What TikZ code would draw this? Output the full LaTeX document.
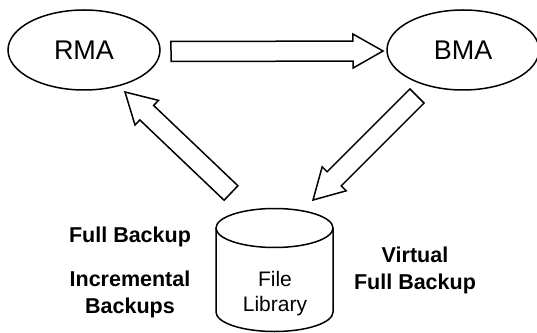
\documentclass[tikz,border=0pt]{standalone}
\usepackage{fontspec}
\setmainfont{Liberation Sans}
\usetikzlibrary{shapes.geometric, positioning, calc}

\newcommand{\fatarrow}[2]{%
  \draw[fat arrow] let \p1=($(#2)-(#1)$), \n1={atan2(\y1,\x1)} in
    ($(#1)+(\n1+90:10)$) -- ($(#2)+(\n1+180:30)+(\n1+90:10)$)
    -- ($(#2)+(\n1+180:30)+(\n1+90:17)$) -- (#2)
    -- ($(#2)+(\n1+180:30)+(\n1-90:17)$) -- ($(#2)+(\n1+180:30)+(\n1-90:10)$)
    -- ($(#1)+(\n1-90:10)$) -- cycle;}

\begin{document}
\begin{tikzpicture}[x=1pt, y=1pt, line width=1.5pt,
  agent/.style={draw, ellipse, minimum width=152pt, minimum height=80pt,
    font=\fontsize{27}{30}\selectfont},
  fat arrow/.style={draw, fill=white, line join=miter},
  tag/.style={font=\fontsize{21.5}{27}\selectfont\bfseries, align=center}]
\useasboundingbox (0,0) rectangle (537,332);

\node[agent] (rma) at (84,282) {RMA};
\node[agent] (bma) at (463,282) {BMA};

% file library
\node[align=center, font=\fontsize{21}{25}\selectfont] (lib) at (275,38) {File\\Library};
\draw (216,104) -- (216,20) arc (180:360:58.5 and 19.5) -- (333,104);
\draw (274.5,104) ellipse (58.5 and 19.5);

% arrows
\coordinate (r2b-s) at (171,280.5);
\coordinate (r2b-e) at (383,281);
\coordinate (b2l-s) at (417,236);
\coordinate (b2l-e) at (313,132);
\coordinate (l2r-s) at (231,139);
\coordinate (l2r-e) at (125,240);
\fatarrow{r2b-s}{r2b-e}
\fatarrow{b2l-s}{b2l-e}
\fatarrow{l2r-s}{l2r-e}

\node[tag] (full) at (130,95) {Full Backup};
\node[tag] (incr) at (130,38) {Incremental\\Backups};
\node[tag] (virt) at (415,62) {Virtual\\Full Backup};
\end{tikzpicture}
\end{document}
